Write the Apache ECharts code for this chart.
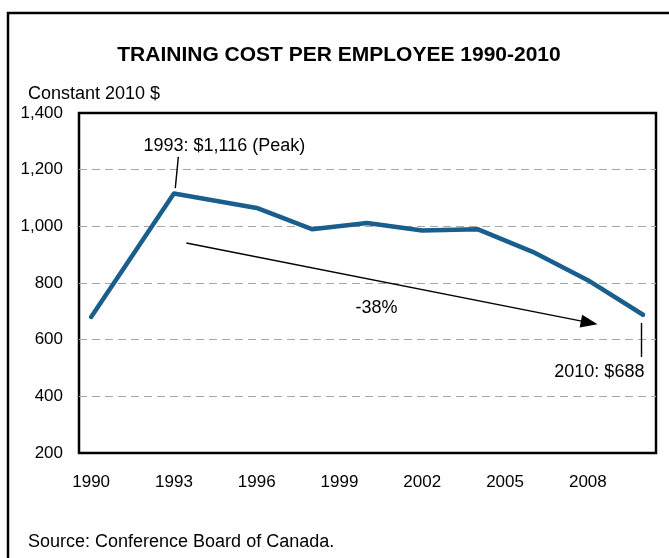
<!DOCTYPE html>
<html>
<head>
<meta charset="utf-8">
<title>Training cost per employee</title>
<script src="https://cdn.jsdelivr.net/npm/echarts@6/dist/echarts.min.js"></script>
<style>
  html, body { margin: 0; padding: 0; background: #fff; }
  #chart { width: 669px; height: 558px; }
</style>
</head>
<body>
<div id="chart"></div>
<script>
// data (constant 2010 $)
const years = [1990, 1993, 1996, 1998, 2000, 2002, 2004, 2006, 2008, 2010];
const costs = [680, 1116, 1065, 990, 1012, 985, 990, 910, 810, 688];
const xTickLabels = [1990, 1993, 1996, 1999, 2002, 2005, 2008];
const yTicks = [200, 400, 600, 800, 1000, 1200, 1400];

const FONT = '"Liberation Sans", Arial, sans-serif';
const LINE_COLOR = "#195e8d";

const chart = echarts.init(document.getElementById("chart"));

const option = {
  animation: false,
  backgroundColor: "#fff",
  grid: {
    left: 79,
    right: 13,
    top: 113,
    bottom: 105,
    show: true,
    borderColor: "#000",
    borderWidth: 2.5,
    backgroundColor: "transparent"
  },
  xAxis: {
    type: "value",
    min: 1989.56,
    max: 2010.47,
    axisLine: { show: false },
    axisTick: { show: false },
    splitLine: { show: false },
    axisLabel: {
      customValues: xTickLabels,
      formatter: (v) => String(v),
      color: "#000",
      fontSize: 17,
      fontFamily: FONT,
      margin: 21
    }
  },
  yAxis: {
    type: "value",
    min: yTicks[0],
    max: yTicks[yTicks.length - 1],
    interval: 200,
    axisLine: { show: false },
    axisTick: { show: false },
    axisLabel: {
      formatter: (v) => v.toLocaleString("en-US"),
      color: "#000",
      fontSize: 17,
      fontFamily: FONT,
      margin: 16
    },
    splitLine: {
      show: true,
      showMinLine: false,
      showMaxLine: false,
      lineStyle: { color: "#a6a6a6", width: 1, type: [8, 5] }
    }
  },
  series: [
    {
      type: "line",
      data: years.map((y, i) => [y, costs[i]]),
      showSymbol: false,
      symbol: "none",
      lineStyle: { color: LINE_COLOR, width: 4.5, join: "round", cap: "round" },
      z: 3,
      markLine: {
        silent: true,
        animation: false,
        label: { show: false },
        emphasis: { disabled: true },
        data: [
          // -38% trend arrow
          [
            { coord: [1993.45, 941], symbol: "none" },
            { coord: [2008.05, 660], symbol: "triangle", symbolSize: [13, 17] }
          ],
          // leader to peak label
          [
            { coord: [1993.16, 1245], symbol: "none" },
            { coord: [1993.05, 1135], symbol: "none" }
          ],
          // leader to 2010 label
          [
            { coord: [2009.93, 659], symbol: "none" },
            { coord: [2009.93, 539], symbol: "none" }
          ]
        ],
        lineStyle: { color: "#000", width: 1.4, type: "solid" }
      }
    }
  ]
};

chart.setOption(option);

// text annotations placed from data coordinates
const at = (x, y) => chart.convertToPixel({ gridIndex: 0 }, [x, y]);
const peak = at(1994.83, 1284);
const drop = at(2000.34, 712);
const last = at(2010.05, 486);

const txt = (x, y, text, extra) => ({
  type: "text",
  x: x,
  y: y,
  style: Object.assign({
    text: text,
    fill: "#000",
    font: "18px " + FONT,
    textAlign: "left",
    textVerticalAlign: "middle"
  }, extra || {})
});

chart.setOption({
  graphic: [
    {
      type: "rect",
      shape: { x: 8, y: 13, width: 700, height: 600 },
      style: { fill: "none", stroke: "#000", lineWidth: 2.5 },
      silent: true
    },
    txt(339, 55, "TRAINING COST PER EMPLOYEE 1990-2010", {
      font: "bold 21px " + FONT,
      textAlign: "center"
    }),
    txt(28, 94, "Constant 2010 $"),
    txt(28, 542, "Source: Conference Board of Canada."),
    txt(peak[0], peak[1], "1993: $1,116 (Peak)", { textAlign: "center" }),
    txt(drop[0], drop[1], "-38%", { textAlign: "center" }),
    txt(last[0], last[1], "2010: $688", { textAlign: "right" })
  ]
});
</script>
</body>
</html>
